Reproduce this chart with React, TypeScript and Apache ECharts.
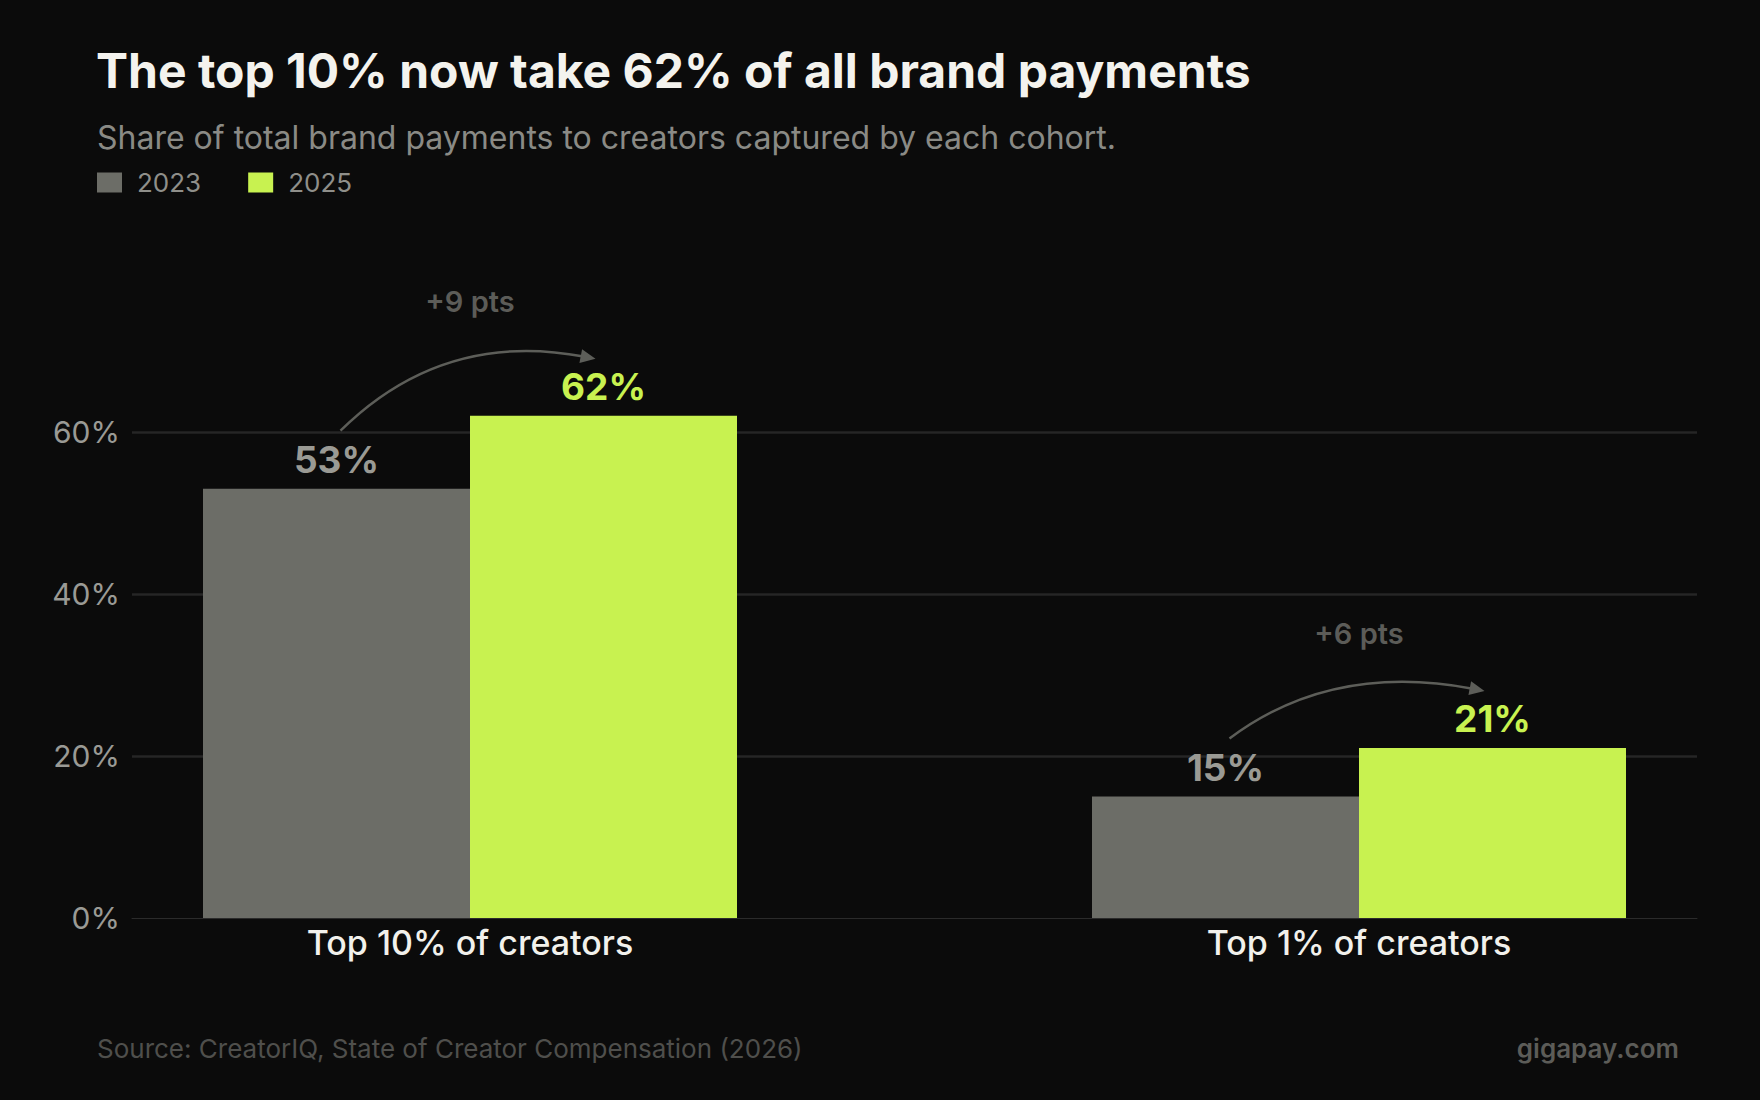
import React, { useEffect, useRef } from "react";
import * as echarts from "echarts";

// Cohorts and their share of brand payments (%)
const categories = ["Top 10% of creators", "Top 1% of creators"];
const seriesNames = ["2023", "2025"];
const values2023 = [53, 15];
const values2025 = [62, 21];
const yTicks = [0, 20, 40, 60];

const BG = "#0b0b0b";
const GRAY_BAR = "#6c6d67";
const LIME = "#c8f250";
const FONT = "Inter";
const BAR_W = 267;

// The two cohorts sit on the outer slots of a three-slot band axis,
// which leaves a wide gap between the groups.
const slotLabels = [categories[0], "", categories[1]];
const slotOf = [0, 2];
const toSlots = (vals: number[]) => {
  const out: (number | null)[] = [null, null, null];
  vals.forEach((v, i) => (out[slotOf[i]] = v));
  return out;
};

export default function App() {
  const ref = useRef<HTMLDivElement>(null);

  useEffect(() => {
    if (!ref.current) return;
    const chart = echarts.init(ref.current, undefined, { renderer: "svg" });

    const arrowData = categories.map((_, i) => [slotOf[i], values2023[i], values2025[i]]);

    const renderArrow = (params: any, api: any) => {
      const idx = api.value(0);
      const a = api.value(1);
      const b = api.value(2);
      const pA = api.coord([idx, a]);
      const pB = api.coord([idx, b]);
      const half = BAR_W / 2;
      const sx = pA[0] - half + 4;
      const sy = pA[1] - 58;
      const ex = pB[0] + half - 8;
      const ey = pB[1] - 57;
      const cx = sx + 0.4 * (ex - sx);
      const cy = ey - 29;
      let dx = ex - cx;
      let dy = ey - cy;
      const len = Math.sqrt(dx * dx + dy * dy);
      dx /= len;
      dy /= len;
      const headLen = 15;
      const headHalf = 7;
      const bx = ex - dx * headLen;
      const by = ey - dy * headLen;
      const nx = -dy;
      const ny = dx;
      const delta = Math.round(b - a);
      return {
        type: "group",
        silent: true,
        children: [
          {
            type: "bezierCurve",
            shape: { x1: sx, y1: sy, x2: bx + dx * 3, y2: by + dy * 3, cpx1: cx, cpy1: cy },
            style: { stroke: "#5d5e59", lineWidth: 2.5, fill: null },
          },
          {
            type: "polygon",
            shape: {
              points: [
                [ex, ey],
                [bx + nx * headHalf, by + ny * headHalf],
                [bx - nx * headHalf, by - ny * headHalf],
              ],
            },
            style: { fill: "#5d5e59" },
          },
          {
            type: "text",
            style: {
              x: pA[0],
              y: ey - 57,
              text: `+${delta} pts`,
              fill: "#5c5c58",
              font: `600 29px ${FONT}`,
              align: "center",
              verticalAlign: "middle",
            },
          },
        ],
      };
    };

    const barLabel = (color: string) => ({
      show: true,
      position: "top",
      distance: 11,
      formatter: "{c}%",
      color,
      fontSize: 37,
      fontWeight: 700,
      fontFamily: FONT,
    });

    chart.setOption({
      animation: false,
      backgroundColor: BG,
      textStyle: { fontFamily: FONT },
      graphic: [
        {
          type: "text",
          x: 96,
          y: 70,
          style: {
            text: "The top 10% now take 62% of all brand payments",
            fill: "#f4f3ee",
            font: `700 48px ${FONT}`,
            verticalAlign: "middle",
          },
        },
        {
          type: "text",
          x: 97,
          y: 137,
          style: {
            text: "Share of total brand payments to creators captured by each cohort.",
            fill: "#8a8a85",
            font: `400 32px ${FONT}`,
            verticalAlign: "middle",
          },
        },
        {
          type: "text",
          x: 97,
          y: 1048,
          style: {
            text: "Source: CreatorIQ, State of Creator Compensation (2026)",
            fill: "#4f4f4c",
            font: `400 26px ${FONT}`,
            verticalAlign: "middle",
          },
        },
        {
          type: "text",
          x: 1679,
          y: 1048,
          style: {
            text: "gigapay.com",
            fill: "#5c5c58",
            font: `600 26px ${FONT}`,
            align: "right",
            verticalAlign: "middle",
          },
        },
      ],
      legend: {
        data: seriesNames,
        left: 97,
        top: 169.5,
        padding: 0,
        icon: "rect",
        itemWidth: 25,
        itemHeight: 20,
        itemGap: 47,
        selectedMode: false,
        textStyle: {
          color: "#8f8f8a",
          fontSize: 26,
          fontFamily: FONT,
          padding: [0, 0, 0, 10],
        },
      },
      grid: [
        { left: 247.75, width: 1333.5, top: 270, bottom: 182 },
        { left: 132, right: 63, top: 270, bottom: 182 },
      ],
      xAxis: [
        {
          type: "category",
          gridIndex: 0,
          data: slotLabels,
          axisLine: { show: false },
          axisTick: { show: false },
          axisLabel: {
            interval: 0,
            color: "#f2f1ec",
            fontSize: 34,
            fontWeight: 500,
            fontFamily: FONT,
            margin: 7,
          },
        },
        {
          type: "value",
          gridIndex: 1,
          min: 0,
          max: 1,
          axisLine: { show: true, lineStyle: { color: "#2b2b2b", width: 1 } },
          axisTick: { show: false },
          axisLabel: { show: false },
          splitLine: { show: false },
        },
      ],
      yAxis: [
        {
          type: "value",
          gridIndex: 0,
          min: 0,
          max: 80,
          interval: 20,
          show: false,
        },
        {
          type: "value",
          gridIndex: 1,
          min: 0,
          max: 80,
          interval: 20,
          axisLine: { show: false },
          axisTick: { show: false },
          axisLabel: {
            color: "#9a9a95",
            fontSize: 30,
            fontFamily: FONT,
            margin: 12,
            showMaxLabel: false,
            formatter: (v: number) => (yTicks.includes(v) ? `${v}%` : ""),
          },
          splitLine: {
            show: true,
            showMinLine: false,
            showMaxLine: false,
            lineStyle: { color: "#262626", width: 2.5 },
          },
        },
      ],
      series: [
        {
          name: seriesNames[0],
          type: "bar",
          xAxisIndex: 0,
          yAxisIndex: 0,
          data: toSlots(values2023),
          barWidth: BAR_W,
          barGap: "0%",
          clip: false,
          itemStyle: { color: GRAY_BAR },
          label: barLabel("#9a9a94"),
        },
        {
          name: seriesNames[1],
          type: "bar",
          xAxisIndex: 0,
          yAxisIndex: 0,
          data: toSlots(values2025),
          barWidth: BAR_W,
          barGap: "0%",
          clip: false,
          itemStyle: { color: LIME },
          label: barLabel(LIME),
        },
        {
          type: "custom",
          xAxisIndex: 0,
          yAxisIndex: 0,
          data: arrowData,
          renderItem: renderArrow,
          clip: false,
          silent: true,
          z: 5,
        },
      ],
    });

    return () => chart.dispose();
  }, []);

  return (
    <div
      ref={ref}
      style={{ position: "fixed", left: 0, top: 0, width: 1760, height: 1100 }}
    />
  );
}
